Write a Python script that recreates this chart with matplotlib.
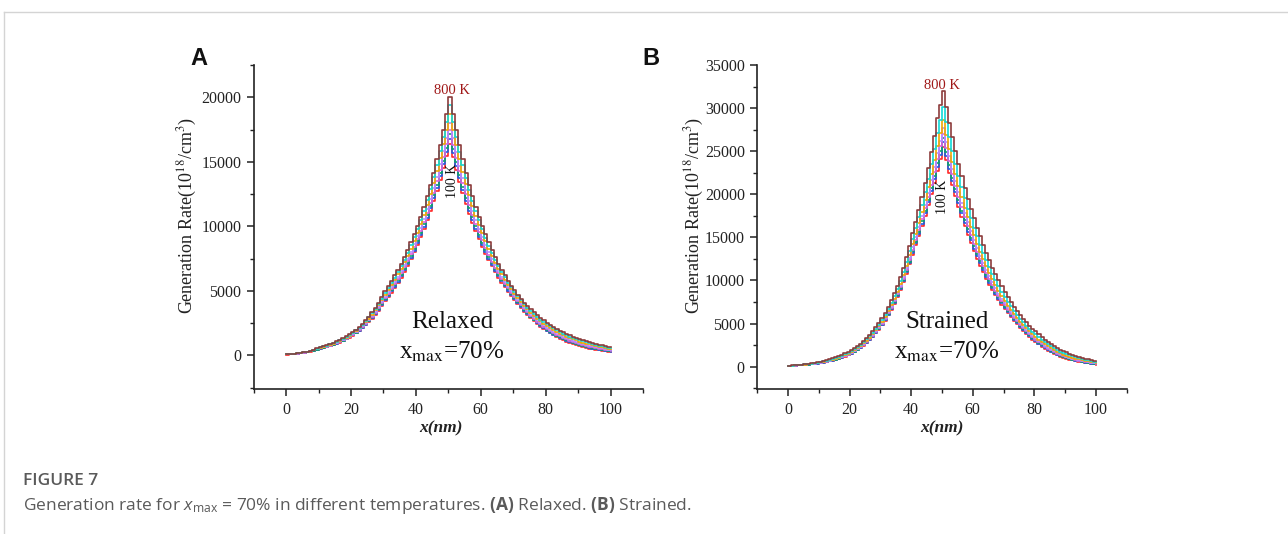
import matplotlib
matplotlib.use("Agg")
import matplotlib.pyplot as plt
from matplotlib.ticker import MultipleLocator
from matplotlib.lines import Line2D

plt.rcParams['font.family'] = ['Liberation Serif', 'DejaVu Serif']
plt.rcParams['mathtext.fontset'] = 'custom'
plt.rcParams['mathtext.rm'] = 'Open Sans'
plt.rcParams['mathtext.it'] = 'Open Sans:italic'
plt.rcParams['mathtext.bf'] = 'Open Sans:bold'

# ---------------- data (1 nm steps, x = 0..100) ----------------
x_nm = list(range(0, 101))
temperatures = ['100 K', '200 K', '300 K', '400 K', '500 K', '600 K', '700 K', '800 K']
line_colors = ['#ff2a2a', '#2060e0', '#10a070', '#e060e0', '#b48cff', '#f0a800', '#10d8d8', '#8c3c3c']

relaxed_100K = [70, 88, 110, 137, 170, 206, 250, 300, 360, 430, 510, 572, 640, 716, 800, 895, 1000, 1115, 1240, 1383,
                1540, 1710, 1900, 2110, 2340, 2590, 2860, 3160, 3480, 3830, 4210, 4530, 4870, 5230, 5620, 6035, 6480, 6950, 7450, 7980,
                8550, 9155, 9800, 10480, 11200, 11950, 12750, 13600, 14500, 15420, 16400, 15340, 14350, 13425, 12560, 11750, 10990, 10280, 9620, 9000,
                8420, 7880, 7370, 6895, 6450, 6030, 5640, 5280, 4940, 4620, 4320, 3980, 3670, 3385, 3120, 2870, 2640, 2420, 2220, 2030,
                1860, 1700, 1550, 1415, 1290, 1175, 1070, 970, 880, 796, 720, 649, 585, 527, 475, 428, 385, 346, 310, 278, 250]
relaxed_200K = [73, 91, 114, 141, 174, 211, 256, 307, 369, 440, 524, 587, 656, 733, 818, 914, 1020, 1135, 1263, 1407,
                1566, 1740, 1931, 2143, 2378, 2630, 2908, 3210, 3542, 3897, 4287, 4612, 4962, 5329, 5722, 6143, 6594, 7070, 7580, 8120,
                8699, 9314, 9972, 10668, 11403, 12172, 12993, 13864, 14793, 15746, 16760, 15675, 14658, 13710, 12822, 11990, 11214, 10490, 9810, 9175,
                8582, 8027, 7508, 7022, 6567, 6140, 5740, 5372, 5025, 4698, 4392, 4054, 3742, 3456, 3191, 2940, 2709, 2490, 2288, 2100,
                1927, 1765, 1615, 1478, 1353, 1237, 1130, 1030, 938, 853, 775, 703, 637, 578, 524, 475, 430, 389, 352, 319, 289]
relaxed_300K = [76, 94, 117, 145, 178, 216, 261, 314, 377, 451, 538, 601, 671, 749, 835, 932, 1039, 1157, 1286, 1432,
                1592, 1768, 1962, 2180, 2416, 2674, 2956, 3266, 3604, 3970, 4364, 4697, 5054, 5427, 5824, 6254, 6708, 7196, 7710, 8260,
                8848, 9480, 10144, 10860, 11606, 12400, 13236, 14130, 15086, 16085, 17120, 16010, 14966, 13995, 13084, 12235, 11438, 10695, 10000, 9350,
                8744, 8175, 7646, 7150, 6684, 6250, 5840, 5463, 5110, 4778, 4464, 4126, 3814, 3527, 3262, 3010, 2778, 2560, 2356, 2170,
                1994, 1830, 1680, 1543, 1416, 1298, 1190, 1089, 996, 910, 830, 756, 689, 628, 572, 522, 476, 433, 394, 359, 327]
relaxed_400K = [79, 98, 121, 149, 182, 221, 267, 321, 386, 462, 552, 616, 687, 766, 853, 951, 1059, 1178, 1309, 1456,
                1618, 1797, 1993, 2213, 2454, 2717, 3004, 3320, 3666, 4040, 4441, 4781, 5146, 5527, 5926, 6362, 6822, 7320, 7840, 8400,
                8997, 9640, 10316, 11040, 11809, 12620, 13479, 14400, 15379, 16410, 17480, 16340, 15274, 14280, 13346, 12480, 11662, 10900, 10190, 9525,
                8906, 8325, 7784, 7277, 6801, 6355, 5940, 5555, 5195, 4855, 4536, 4200, 3886, 3600, 3333, 3080, 2847, 2627, 2424, 2236,
                2061, 1898, 1745, 1607, 1479, 1360, 1250, 1148, 1054, 966, 885, 810, 741, 679, 621, 569, 521, 477, 436, 400, 366]
relaxed_500K = [84, 103, 126, 154, 188, 228, 275, 331, 398, 478, 573, 638, 710, 790, 879, 978, 1088, 1209, 1344, 1493,
                1657, 1839, 2040, 2263, 2511, 2780, 3076, 3400, 3759, 4140, 4557, 4907, 5284, 5670, 6079, 6520, 6993, 7500, 8035, 8610,
                9221, 9880, 10574, 11320, 12114, 12950, 13844, 14800, 15819, 16880, 18020, 16840, 15736, 14710, 13739, 12840, 11998, 11210, 10475, 9790,
                9149, 8550, 7991, 7467, 6977, 6520, 6090, 5694, 5323, 4972, 4644, 4306, 3994, 3706, 3440, 3186, 2951, 2730, 2526, 2337,
                2162, 1996, 1843, 1703, 1574, 1452, 1340, 1236, 1141, 1051, 968, 890, 819, 754, 694, 640, 589, 542, 499, 460, 424]
relaxed_600K = [89, 109, 132, 161, 196, 237, 285, 344, 414, 498, 600, 666, 739, 821, 912, 1013, 1125, 1249, 1387, 1538,
                1706, 1892, 2098, 2328, 2583, 2860, 3167, 3505, 3877, 4270, 4703, 5068, 5459, 5855, 6273, 6725, 7210, 7730, 8282, 8870,
                9504, 10180, 10901, 11670, 12499, 13370, 14305, 15305, 16375, 17500, 18704, 17470, 16321, 15245, 14237, 13300, 12424, 11605, 10836, 10125,
                9457, 8835, 8253, 7710, 7199, 6725, 6280, 5870, 5484, 5122, 4781, 4445, 4131, 3843, 3574, 3320, 3082, 2860, 2655, 2465,
                2289, 2122, 1966, 1825, 1693, 1570, 1454, 1349, 1251, 1158, 1072, 992, 918, 850, 787, 729, 675, 625, 579, 536, 497]
relaxed_700K = [95, 115, 139, 168, 203, 245, 296, 357, 431, 519, 626, 694, 769, 853, 945, 1048, 1162, 1290, 1431, 1585,
                1756, 1946, 2157, 2393, 2655, 2942, 3258, 3610, 3995, 4400, 4849, 5227, 5634, 6037, 6467, 6930, 7426, 7960, 8529, 9137,
                9787, 10485, 11228, 12030, 12885, 13795, 14767, 15810, 16932, 18120, 19388, 18105, 16906, 15785, 14735, 13760, 12849, 11995, 11197, 10457,
                9765, 9118, 8515, 7950, 7421, 6930, 6470, 6045, 5646, 5270, 4918, 4582, 4268, 3980, 3709, 3452, 3213, 2990, 2784, 2593,
                2416, 2247, 2090, 1947, 1813, 1686, 1568, 1461, 1361, 1266, 1177, 1094, 1017, 946, 879, 818, 761, 708, 659, 613, 570]
relaxed_800K = [100, 120, 145, 175, 210, 255, 305, 370, 445, 540, 650, 720, 795, 880, 975, 1080, 1195, 1325, 1470, 1625,
                1800, 1995, 2210, 2450, 2720, 3015, 3340, 3700, 4100, 4520, 4980, 5370, 5790, 6200, 6640, 7115, 7620, 8165, 8750, 9375,
                10040, 10755, 11520, 12345, 13230, 14170, 15180, 16265, 17430, 18670, 20000, 18670, 17430, 16265, 15180, 14170, 13230, 12345, 11520, 10755,
                10040, 9375, 8750, 8165, 7620, 7115, 6640, 6200, 5790, 5400, 5040, 4705, 4390, 4100, 3830, 3570, 3330, 3110, 2900, 2710,
                2530, 2360, 2200, 2055, 1920, 1790, 1670, 1560, 1460, 1360, 1270, 1185, 1105, 1030, 962, 898, 838, 782, 730, 682, 636]

strained_100K = [70, 88, 110, 133, 160, 188, 220, 257, 300, 346, 400, 456, 520, 595, 680, 778, 890, 1012, 1150, 1305,
                 1480, 1677, 1900, 2145, 2420, 2722, 3060, 3433, 3850, 4300, 4800, 5345, 5950, 6590, 7300, 8060, 8900, 9805, 10800, 11850,
                 13000, 14065, 15200, 16310, 17500, 18710, 20000, 21310, 22700, 24060, 25500, 23950, 22500, 21110, 19800, 18560, 17400, 16315, 15300, 14320,
                 13400, 12520, 11700, 10925, 10200, 9510, 8870, 8265, 7700, 7156, 6650, 6170, 5720, 5295, 4900, 4525, 4180, 3800, 3450, 3135,
                 2850, 2570, 2320, 2070, 1850, 1650, 1470, 1305, 1160, 1027, 910, 805, 710, 625, 550, 481, 420, 367, 320, 277, 240]
strained_200K = [73, 92, 115, 138, 166, 195, 229, 267, 311, 359, 414, 472, 539, 615, 702, 802, 916, 1040, 1180, 1337,
                 1514, 1713, 1939, 2186, 2465, 2770, 3111, 3490, 3908, 4360, 4868, 5418, 6030, 6680, 7396, 8170, 9020, 9940, 10952, 12060,
                 13200, 14320, 15440, 16585, 17804, 19070, 20392, 21745, 23188, 24600, 26020, 24440, 22964, 21550, 20216, 18960, 17776, 16670, 15636, 14640,
                 13704, 12810, 11972, 11180, 10440, 9735, 9080, 8460, 7884, 7327, 6810, 6318, 5861, 5426, 5023, 4642, 4289, 3905, 3555, 3238,
                 2949, 2666, 2410, 2157, 1931, 1726, 1543, 1375, 1225, 1089, 968, 859, 762, 674, 596, 524, 461, 405, 356, 311, 272]
strained_300K = [76, 95, 119, 143, 172, 202, 237, 276, 321, 370, 427, 487, 556, 634, 722, 823, 938, 1064, 1206, 1365,
                 1545, 1746, 1974, 2224, 2504, 2811, 3156, 3535, 3960, 4418, 4928, 5483, 6100, 6755, 7480, 8262, 9125, 10060, 11085, 12180,
                 13375, 14490, 15650, 16840, 18070, 19375, 20735, 22135, 23615, 25005, 26475, 24875, 23370, 21930, 20580, 19300, 18105, 16985, 15930, 14920,
                 13970, 13060, 12210, 11400, 10650, 9935, 9265, 8634, 8045, 7478, 6950, 6450, 5984, 5542, 5131, 4743, 4384, 4000, 3647, 3328,
                 3036, 2750, 2490, 2233, 2002, 1794, 1607, 1435, 1282, 1144, 1020, 908, 808, 718, 637, 563, 497, 439, 388, 342, 301]
strained_400K = [79, 99, 124, 149, 178, 209, 245, 285, 332, 383, 441, 504, 575, 654, 744, 847, 964, 1091, 1235, 1396,
                 1579, 1783, 2013, 2266, 2549, 2860, 3207, 3590, 4018, 4480, 4996, 5560, 6180, 6844, 7576, 8370, 9245, 10193, 11237, 12350,
                 13575, 14730, 15890, 17110, 18374, 19730, 21127, 22585, 24103, 25550, 26995, 25380, 23834, 22375, 20996, 19700, 18481, 17340, 16266, 15250,
                 14274, 13350, 12482, 11660, 10890, 10160, 9475, 8830, 8229, 7650, 7110, 6600, 6125, 5675, 5254, 4860, 4493, 4105, 3751, 3430,
                 3135, 2845, 2580, 2320, 2082, 1870, 1679, 1504, 1346, 1205, 1078, 963, 860, 767, 683, 607, 538, 478, 425, 376, 333]
strained_500K = [84, 105, 130, 156, 187, 220, 257, 299, 348, 401, 461, 527, 602, 684, 775, 881, 999, 1130, 1276, 1441,
                 1626, 1834, 2067, 2325, 2610, 2925, 3278, 3667, 4098, 4568, 5089, 5660, 6290, 6965, 7708, 8520, 9410, 10380, 11446, 12600,
                 13850, 15015, 16220, 17480, 18792, 20190, 21666, 23180, 24774, 26220, 27710, 26040, 24472, 22975, 21568, 20245, 18998, 17830, 16728, 15680,
                 14692, 13745, 12856, 12010, 11220, 10465, 9764, 9100, 8482, 7885, 7330, 6806, 6318, 5855, 5424, 5020, 4642, 4252, 3895, 3570,
                 3272, 2975, 2704, 2435, 2193, 1975, 1779, 1598, 1435, 1290, 1158, 1038, 931, 834, 747, 667, 595, 532, 475, 424, 378]
strained_600K = [89, 111, 139, 166, 198, 233, 273, 318, 367, 423, 486, 556, 635, 719, 814, 922, 1044, 1178, 1328, 1497,
                 1686, 1898, 2135, 2398, 2689, 3010, 3367, 3765, 4200, 4680, 5208, 5790, 6430, 7120, 7876, 8705, 9620, 10620, 11712, 12920,
                 14200, 15400, 16640, 17950, 19324, 20810, 22352, 23935, 25628, 27100, 28620, 26900, 25284, 23745, 22296, 20935, 19656, 18450, 17316, 16235,
                 15224, 14245, 13332, 12460, 11640, 10860, 10132, 9445, 8804, 8185, 7610, 7068, 6565, 6085, 5639, 5220, 4833, 4440, 4079, 3750,
                 3445, 3140, 2862, 2585, 2335, 2110, 1907, 1719, 1549, 1397, 1260, 1135, 1022, 920, 828, 743, 667, 599, 538, 483, 434]
strained_700K = [99, 123, 153, 183, 218, 256, 299, 347, 401, 461, 530, 606, 693, 782, 882, 994, 1120, 1259, 1416, 1592,
                 1790, 2008, 2253, 2522, 2823, 3153, 3521, 3925, 4376, 4867, 5412, 6010, 6670, 7380, 8164, 9030, 9980, 11020, 12168, 13420,
                 14800, 16030, 17360, 18745, 20236, 21820, 23528, 25250, 27092, 28600, 30180, 28375, 26676, 25060, 23544, 22120, 20784, 19515, 18324, 17195,
                 16136, 15110, 14148, 13225, 12360, 11535, 10764, 10035, 9356, 8700, 8090, 7520, 6987, 6480, 6009, 5570, 5159, 4760, 4393, 4055,
                 3743, 3425, 3134, 2840, 2577, 2340, 2125, 1925, 1743, 1582, 1436, 1300, 1178, 1068, 968, 875, 791, 716, 648, 587, 532]
strained_800K = [110, 137, 170, 202, 240, 282, 330, 381, 440, 505, 580, 664, 760, 854, 960, 1078, 1210, 1356, 1520, 1704,
                 1910, 2137, 2390, 2668, 2980, 3320, 3700, 4115, 4580, 5090, 5650, 6265, 6950, 7685, 8500, 9400, 10400, 11490, 12700, 14030,
                 15500, 16800, 18200, 19710, 21300, 23030, 24900, 26780, 28800, 30360, 32000, 30090, 28300, 26600, 25000, 23500, 22100, 20760, 19500, 18315,
                 17200, 16115, 15100, 14120, 13200, 12320, 11500, 10725, 10000, 9300, 8650, 8045, 7480, 6940, 6440, 5973, 5540, 5135, 4760, 4412,
                 4090, 3757, 3450, 3140, 2860, 2609, 2380, 2165, 1970, 1797, 1640, 1494, 1360, 1240, 1130, 1028, 935, 851, 775, 707, 645]

relaxed_series = [relaxed_100K, relaxed_200K, relaxed_300K, relaxed_400K,
                  relaxed_500K, relaxed_600K, relaxed_700K, relaxed_800K]
strained_series = [strained_100K, strained_200K, strained_300K, strained_400K,
                   strained_500K, strained_600K, strained_700K, strained_800K]

# ---------------- figure ----------------
W, H = 1288, 534
fig = plt.figure(figsize=(W / 100, H / 100), dpi=100)
fig.patch.set_facecolor('white')


def fx(px):
    return px / W


def fy(py):
    return 1 - py / H


def make_axes(rect_px, series, ymin, ymax, ylabel_x_px, xlabel_x_px):
    l, t, r, b = rect_px
    ax = fig.add_axes([fx(l), fy(b), fx(r) - fx(l), fy(t) - fy(b)])
    for vals, c in zip(series, line_colors):
        ax.step(x_nm, vals, where='post', color=c, lw=1.2)
    ax.set_xlim(-10, 110)
    ax.set_ylim(ymin, ymax)
    ax.xaxis.set_major_locator(MultipleLocator(20))
    ax.xaxis.set_minor_locator(MultipleLocator(10))
    ax.yaxis.set_major_locator(MultipleLocator(5000))
    ax.yaxis.set_minor_locator(MultipleLocator(2500))
    ax.set_xticks([0, 20, 40, 60, 80, 100])
    for s in ['top', 'right']:
        ax.spines[s].set_visible(False)
    for s in ['left', 'bottom']:
        ax.spines[s].set_linewidth(1.2)
        ax.spines[s].set_color('#222222')
    ax.tick_params(which='major', direction='out', length=5, width=1.1,
                   labelsize=11.5, colors='#222222', pad=4)
    ax.tick_params(which='minor', direction='out', length=3, width=1.0, colors='#222222')
    ax.set_ylabel(r'Generation Rate(10$^{18}$/cm$^{3}$)', fontsize=13,
                  math_fontfamily='stix', color='#222222')
    ax.yaxis.set_label_coords((ylabel_x_px - l) / (r - l), (b - 216) / (b - t))
    ax.set_xlabel('x(nm)', fontsize=12.5, style='italic', weight='bold', color='#222222')
    ax.xaxis.set_label_coords((xlabel_x_px - l) / (r - l), (b - 428) / (b - t))
    ax.xaxis.label.set_va('center')
    return ax


axA = make_axes((253.7, 65, 643, 389), relaxed_series, -2600, 22500, 199, 441)
axB = make_axes((757.3, 65, 1126.7, 389), strained_series, -2600, 35000, 706, 942)

# in-panel annotations
fig.text(fx(452), fy(90), '800 K', color='#a01818', fontsize=10.5, ha='center', va='center')
fig.text(fx(452), fy(181), '100 K', color='#111111', fontsize=10, ha='center', va='center', rotation=90)
fig.text(fx(942), fy(85), '800 K', color='#a01818', fontsize=10.5, ha='center', va='center')
fig.text(fx(943), fy(197), '100 K', color='#111111', fontsize=10, ha='center', va='center', rotation=90)

fig.text(fx(452), fy(322), 'Relaxed', fontsize=18, ha='center', va='center', color='#111111')
fig.text(fx(452), fy(352), r'x$_{\mathrm{max}}$=70%', fontsize=18, ha='center', va='center',
         color='#111111', math_fontfamily='stix')
fig.text(fx(947), fy(322), 'Strained', fontsize=18, ha='center', va='center', color='#111111')
fig.text(fx(947), fy(352), r'x$_{\mathrm{max}}$=70%', fontsize=18, ha='center', va='center',
         color='#111111', math_fontfamily='stix')

# panel letters
fig.text(fx(199), fy(65), 'A', fontsize=17, weight='bold', family='Liberation Sans',
         ha='center', va='baseline', color='#111111')
fig.text(fx(651), fy(65), 'B', fontsize=17, weight='bold', family='Liberation Sans',
         ha='center', va='baseline', color='#111111')

# caption
fig.text(fx(23), fy(481), 'FIGURE 7', fontsize=12.5, weight='semibold', family='Open Sans',
         color='#5a5a5a', ha='left', va='center')
fig.text(fx(23), fy(505),
         r'Generation rate for $\mathit{x}_{\mathrm{max}}$ = 70% in different temperatures. '
         r'$\mathbf{(A)}$ Relaxed. $\mathbf{(B)}$ Strained.',
         fontsize=12.5, family='Open Sans', color='#5a5a5a', ha='left', va='center',
         math_fontfamily='custom')

# frame lines
fig.add_artist(Line2D([fx(4), fx(4)], [0, fy(12)], transform=fig.transFigure,
                      color='#d4d4d4', lw=1))
fig.add_artist(Line2D([fx(4), 1], [fy(12), fy(12)], transform=fig.transFigure,
                      color='#d4d4d4', lw=1))

fig.savefig('out.png', dpi=100, facecolor='white')
